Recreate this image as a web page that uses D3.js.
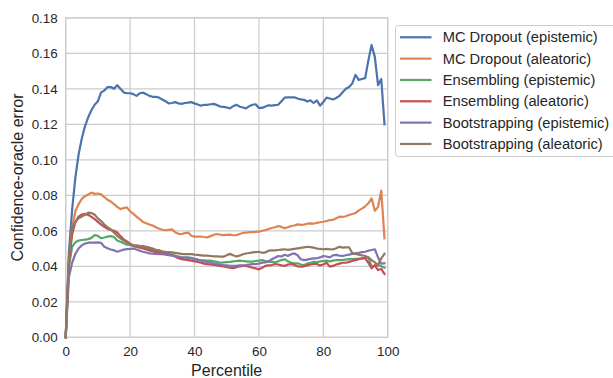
<!DOCTYPE html>
<html>
<head>
<meta charset="utf-8">
<script src="https://cdn.jsdelivr.net/npm/d3@7"></script>
<style>
  html, body { margin: 0; padding: 0; background: #fff; }
  svg { display: block; font-family: "Liberation Sans", Arial, sans-serif; }
</style>
</head>
<body>
<svg id="chart" width="613" height="378"></svg>
<script>
// Percentile positions 0..99
const percentiles = d3.range(0, 100);

const seriesNames = [
  "MC Dropout (epistemic)",
  "MC Dropout (aleatoric)",
  "Ensembling (epistemic)",
  "Ensembling (aleatoric)",
  "Bootstrapping (epistemic)",
  "Bootstrapping (aleatoric)"
];

const seriesColors = ["#4C72B0", "#DD8452", "#55A868", "#C44E52", "#8172B3", "#937860"];

const mcEpistemic = [
  0.000, 0.048, 0.072, 0.090, 0.103, 0.112, 0.119, 0.124, 0.128, 0.131,
  0.133, 0.138, 0.139, 0.141, 0.141, 0.140, 0.142, 0.140, 0.138, 0.1375,
  0.1375, 0.137, 0.136, 0.1375, 0.1378, 0.137, 0.136, 0.1355, 0.1355, 0.135,
  0.134, 0.133, 0.1318, 0.132, 0.1325, 0.1318, 0.1315, 0.132, 0.1322, 0.1325,
  0.1318, 0.1312, 0.1305, 0.131, 0.131, 0.1313, 0.1315, 0.1308, 0.130, 0.1298,
  0.1295, 0.129, 0.1302, 0.131, 0.130, 0.1295, 0.129, 0.1302, 0.131, 0.1313,
  0.1292, 0.1292, 0.130, 0.1307, 0.1305, 0.1308, 0.131, 0.133, 0.135, 0.1352,
  0.1352, 0.1352, 0.1345, 0.134, 0.1338, 0.1328, 0.1335, 0.132, 0.1335, 0.1305,
  0.1325, 0.135, 0.1345, 0.134, 0.1348, 0.136, 0.138, 0.140, 0.141, 0.143,
  0.1478, 0.145, 0.1455, 0.146, 0.156, 0.1647, 0.158, 0.142, 0.1455, 0.120
];

const mcAleatoric = [
  0.000, 0.040, 0.062, 0.071, 0.075, 0.078, 0.0795, 0.0805, 0.0815, 0.0808,
  0.081, 0.0805, 0.079, 0.0775, 0.0765, 0.075, 0.0735, 0.0722, 0.0728, 0.0732,
  0.071, 0.0695, 0.068, 0.0665, 0.065, 0.0642, 0.0635, 0.063, 0.062, 0.0612,
  0.0606, 0.0603, 0.0605, 0.0608, 0.0592, 0.0583, 0.0582, 0.0587, 0.059, 0.0572,
  0.0567, 0.0567, 0.0568, 0.0565, 0.0563, 0.057, 0.0578, 0.0582, 0.0578, 0.0576,
  0.0577, 0.0578, 0.0575, 0.0575, 0.0582, 0.0588, 0.059, 0.0592, 0.0593, 0.0594,
  0.0595, 0.060, 0.0604, 0.061, 0.0616, 0.062, 0.0627, 0.0622, 0.0614, 0.062,
  0.0627, 0.063, 0.0636, 0.0633, 0.0635, 0.064, 0.0642, 0.064, 0.0645, 0.0648,
  0.0651, 0.0655, 0.066, 0.0662, 0.067, 0.068, 0.0678, 0.0682, 0.0689, 0.0695,
  0.070, 0.0715, 0.0725, 0.0738, 0.0755, 0.0783, 0.0713, 0.0735, 0.0826, 0.0558
];

const ensEpistemic = [
  0.000, 0.040, 0.051, 0.0535, 0.0545, 0.0548, 0.055, 0.0553, 0.056, 0.0576,
  0.0572, 0.0558, 0.0562, 0.0567, 0.057, 0.0565, 0.0546, 0.0538, 0.053, 0.0522,
  0.052, 0.0515, 0.051, 0.0508, 0.0505, 0.0502, 0.0498, 0.0494, 0.049, 0.0485,
  0.048, 0.0476, 0.0472, 0.0466, 0.046, 0.0452, 0.0446, 0.0448, 0.045, 0.0448,
  0.0442, 0.0436, 0.0434, 0.0433, 0.0432, 0.0432, 0.0428, 0.0425, 0.042, 0.0422,
  0.0424, 0.0425, 0.0428, 0.043, 0.0432, 0.043, 0.0428, 0.0426, 0.0426, 0.043,
  0.0432, 0.0435, 0.043, 0.0425, 0.0426, 0.0422, 0.0428, 0.0435, 0.044, 0.0428,
  0.042, 0.0418, 0.0417, 0.041, 0.0407, 0.0415, 0.042, 0.0426, 0.0422, 0.0428,
  0.043, 0.0432, 0.0428, 0.0432, 0.0435, 0.0435, 0.0436, 0.0438, 0.044, 0.044,
  0.0442, 0.0443, 0.0445, 0.0448, 0.045, 0.0398, 0.0402, 0.0407, 0.040, 0.0392
];

const ensAleatoric = [
  0.000, 0.042, 0.058, 0.065, 0.068, 0.0692, 0.0695, 0.069, 0.0678, 0.0666,
  0.065, 0.0635, 0.0622, 0.0612, 0.0605, 0.060, 0.059, 0.057, 0.0552, 0.054,
  0.0528, 0.0515, 0.051, 0.0505, 0.050, 0.0495, 0.049, 0.0485, 0.048, 0.0478,
  0.0475, 0.0472, 0.0468, 0.0462, 0.0455, 0.0445, 0.044, 0.0437, 0.0435, 0.0432,
  0.0428, 0.0424, 0.042, 0.0415, 0.0412, 0.041, 0.0408, 0.0405, 0.0402, 0.040,
  0.0395, 0.0392, 0.0389, 0.0395, 0.040, 0.0402, 0.0402, 0.0398, 0.0392, 0.0388,
  0.0383, 0.0392, 0.0402, 0.0405, 0.0407, 0.0413, 0.041, 0.0405, 0.0402, 0.041,
  0.0413, 0.0408, 0.040, 0.0398, 0.040, 0.0405, 0.041, 0.0413, 0.0413, 0.0405,
  0.041, 0.042, 0.0398, 0.0402, 0.041, 0.0415, 0.042, 0.042, 0.0425, 0.043,
  0.0435, 0.044, 0.0445, 0.0445, 0.042, 0.0389, 0.0407, 0.0379, 0.0385, 0.0357
];

const bootEpistemic = [
  0.000, 0.034, 0.042, 0.047, 0.050, 0.0518, 0.0528, 0.0533, 0.0533, 0.0533,
  0.0535, 0.0532, 0.051, 0.0502, 0.0495, 0.049, 0.0482, 0.0488, 0.0494, 0.0497,
  0.0498, 0.050, 0.0495, 0.0488, 0.0482, 0.0478, 0.0473, 0.0471, 0.047, 0.0469,
  0.0468, 0.0466, 0.0463, 0.046, 0.0458, 0.0455, 0.0452, 0.045, 0.0447, 0.0444,
  0.0442, 0.0438, 0.0432, 0.0428, 0.0424, 0.042, 0.0416, 0.0412, 0.041, 0.0407,
  0.0405, 0.0403, 0.0402, 0.0403, 0.0405, 0.0406, 0.0407, 0.041, 0.0412, 0.0413,
  0.0415, 0.042, 0.0422, 0.0428, 0.044, 0.0448, 0.0458, 0.0455, 0.0465, 0.0458,
  0.0468, 0.0473, 0.0462, 0.044, 0.0435, 0.0438, 0.0442, 0.0445, 0.0445, 0.045,
  0.0458, 0.0455, 0.045, 0.0462, 0.0464, 0.046, 0.0458, 0.0462, 0.0466, 0.047,
  0.0473, 0.0476, 0.048, 0.0482, 0.0488, 0.0492, 0.0496, 0.045, 0.0415, 0.0417
];

const bootAleatoric = [
  0.000, 0.045, 0.062, 0.065, 0.067, 0.068, 0.069, 0.0702, 0.070, 0.069,
  0.067, 0.0655, 0.0635, 0.062, 0.0608, 0.059, 0.0572, 0.0558, 0.0545, 0.0533,
  0.0525, 0.052, 0.0518, 0.0515, 0.0514, 0.051, 0.0505, 0.050, 0.0493, 0.049,
  0.0485, 0.0482, 0.048, 0.0478, 0.0476, 0.0473, 0.047, 0.0469, 0.0469, 0.0469,
  0.0466, 0.0464, 0.0462, 0.046, 0.046, 0.0458, 0.0456, 0.0456, 0.0455, 0.0454,
  0.0462, 0.047, 0.0462, 0.0455, 0.046, 0.0468, 0.0472, 0.0475, 0.0478, 0.048,
  0.0482, 0.0476, 0.0478, 0.0488, 0.049, 0.049, 0.0492, 0.0494, 0.0496, 0.0493,
  0.0495, 0.0498, 0.0501, 0.0504, 0.0507, 0.051, 0.0508, 0.0505, 0.050, 0.0498,
  0.0496, 0.0498, 0.0496, 0.0495, 0.0502, 0.051, 0.0505, 0.0507, 0.0507, 0.0475,
  0.047, 0.0465, 0.0462, 0.0458, 0.045, 0.0435, 0.0422, 0.0407, 0.0445, 0.047
];

const seriesValues = [mcEpistemic, mcAleatoric, ensEpistemic, ensAleatoric, bootEpistemic, bootAleatoric];

const xTicks = [0, 20, 40, 60, 80, 100];
const yTicks = [0.00, 0.02, 0.04, 0.06, 0.08, 0.10, 0.12, 0.14, 0.16, 0.18];

const gridColor = "#cccccc";
const textColor = "#262626";
const tickSize = 13.4;
const legendSize = 14.7;
const titleSize = 16;

const svg = d3.select("#chart");
const margin = { left: 65.7, top: 17.8, right: 613 - 387.7, bottom: 378 - 337.3 };
const x = d3.scaleLinear().domain([0, 100]).range([margin.left, 613 - margin.right]);
const y = d3.scaleLinear().domain([0, 0.18]).range([378 - margin.bottom, margin.top]);

// Grid lines
const grid = svg.append("g");
grid.selectAll("line.v").data(xTicks).join("line")
  .attr("x1", d => x(d)).attr("x2", d => x(d))
  .attr("y1", y(0)).attr("y2", y(0.18))
  .attr("stroke", gridColor).attr("stroke-width", 1.2);
grid.selectAll("line.h").data(yTicks).join("line")
  .attr("x1", x(0)).attr("x2", x(100))
  .attr("y1", d => y(d)).attr("y2", d => y(d))
  .attr("stroke", gridColor).attr("stroke-width", 1.2);

// Axes frame
svg.append("rect")
  .attr("x", x(0)).attr("y", y(0.18))
  .attr("width", x(100) - x(0)).attr("height", y(0) - y(0.18))
  .attr("fill", "none").attr("stroke", gridColor).attr("stroke-width", 1.2);

// Tick labels via d3 axes
const xAxis = svg.append("g")
  .attr("transform", `translate(0,${y(0)})`)
  .call(d3.axisBottom(x).tickValues(xTicks).tickSize(0).tickPadding(9).tickFormat(d3.format("d")));
const yAxis = svg.append("g")
  .attr("transform", `translate(${x(0)},0)`)
  .call(d3.axisLeft(y).tickValues(yTicks).tickSize(0).tickPadding(8).tickFormat(d3.format(".2f")));
[xAxis, yAxis].forEach(a => {
  a.select(".domain").remove();
  a.selectAll("text").attr("fill", textColor)
    .style("font-family", "'Liberation Sans', Arial, sans-serif")
    .style("font-size", tickSize + "px");
});

// Axis titles
svg.append("text")
  .attr("x", (x(0) + x(100)) / 2).attr("y", 376)
  .attr("text-anchor", "middle").attr("fill", textColor)
  .style("font-size", titleSize + "px")
  .text("Percentile");
svg.append("text")
  .attr("transform", `translate(23,${(y(0) + y(0.18)) / 2}) rotate(-90)`)
  .attr("text-anchor", "middle").attr("fill", textColor)
  .style("font-size", titleSize + "px")
  .text("Confidence-oracle error");

// Series lines
const line = d3.line().x((d, i) => x(percentiles[i])).y(d => y(d));
svg.append("g").selectAll("path").data(seriesValues).join("path")
  .attr("d", line)
  .attr("fill", "none")
  .attr("stroke", (d, i) => seriesColors[i])
  .attr("stroke-width", 2.2)
  .attr("stroke-linejoin", "round")
  .attr("stroke-linecap", "square");

// Legend
const legend = svg.append("g");
legend.append("rect")
  .attr("x", 395.5).attr("y", 25.5).attr("width", 240).attr("height", 131)
  .attr("rx", 3).attr("fill", "#fff").attr("fill-opacity", 0.8)
  .attr("stroke", gridColor).attr("stroke-width", 1);
const rows = legend.selectAll("g.row").data(seriesNames).join("g")
  .attr("transform", (d, i) => `translate(0,${37.3 + i * 21.33})`);
rows.append("line")
  .attr("x1", 400).attr("x2", 431.5).attr("y1", 0).attr("y2", 0)
  .attr("stroke", (d, i) => seriesColors[i]).attr("stroke-width", 2.2);
rows.append("text")
  .attr("x", 442.7).attr("y", 0).attr("dy", "0.35em")
  .attr("fill", textColor)
  .style("font-size", legendSize + "px")
  .text(d => d);
</script>
</body>
</html>
